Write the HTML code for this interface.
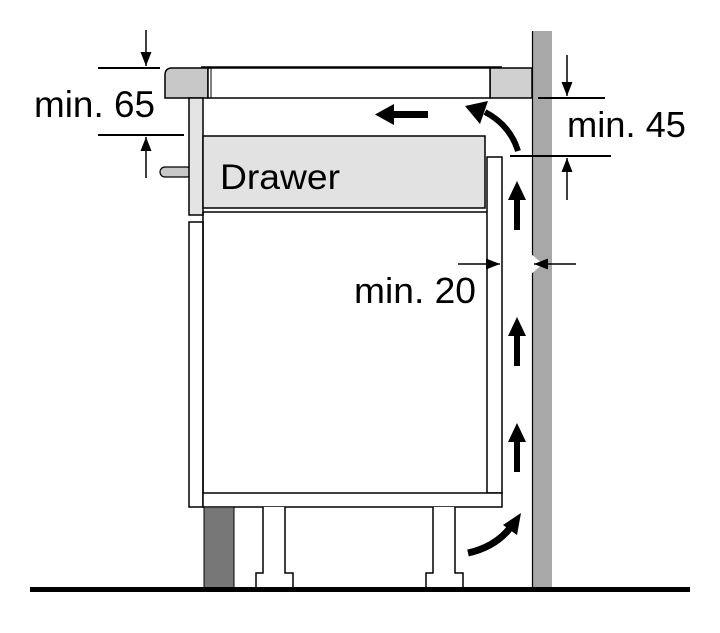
<!DOCTYPE html>
<html><head><meta charset="utf-8"><style>html,body{margin:0;padding:0;background:#fff}svg{display:block}text{font-family:"Liberation Sans",Arial,sans-serif;fill:#000}</style></head>
<body>
<svg width="720" height="633" viewBox="0 0 720 633" xmlns="http://www.w3.org/2000/svg">
<defs>
<marker id="ah" viewBox="0 0 14 12" refX="14" refY="6" markerWidth="14" markerHeight="12" markerUnits="userSpaceOnUse" orient="auto"><path d="M0,0.5 L14,6 L0,11.5 Z" fill="#000"/></marker>
</defs>
<rect x="532" y="31" width="20" height="558" fill="#a8a8a8"/>
<line x1="532.5" y1="31" x2="532.5" y2="589" stroke="#000" stroke-width="1.2"/>
<path d="M172,68 H208 V98 H165 V75 Q165,68 172,68 Z" fill="#c8c8c8" stroke="#000" stroke-width="1.5"/>
<rect x="490" y="68" width="42" height="30" fill="#d0d0d0" stroke="#000" stroke-width="1.5"/>
<rect x="208" y="68" width="282" height="30" fill="#fff" stroke="#000" stroke-width="1.5"/>
<line x1="201" y1="67" x2="502" y2="67" stroke="#000" stroke-width="1.5"/>
<line x1="211" y1="68" x2="211" y2="98" stroke="#000" stroke-width="1"/>
<rect x="160" y="167" width="32" height="10" rx="5" fill="#c8c8c8" stroke="#000" stroke-width="1.2"/>
<rect x="189" y="98" width="14" height="117" fill="#e4e4e4" stroke="#000" stroke-width="1.5"/>
<rect x="189" y="222" width="14" height="285" fill="#fff" stroke="#000" stroke-width="1.5"/>
<rect x="203" y="136" width="282" height="72" fill="#e2e2e2" stroke="#000" stroke-width="1.5"/>
<line x1="203" y1="212" x2="488" y2="212" stroke="#000" stroke-width="1.5"/>
<text x="220" y="189" font-size="35" textLength="120" lengthAdjust="spacingAndGlyphs">Drawer</text>
<line x1="203" y1="212" x2="203" y2="493" stroke="#000" stroke-width="1.5"/>
<rect x="487" y="157" width="15" height="336" fill="#fff" stroke="#000" stroke-width="1.5"/>
<rect x="203" y="493" width="299" height="14" fill="#fff" stroke="#000" stroke-width="1.5"/>
<rect x="204" y="507" width="30" height="81" fill="#777" stroke="#000" stroke-width="1"/>
<path d="M263,507 V573 H256 V588 H293 V573 H285 V507" fill="#fff" stroke="#000" stroke-width="1.5"/>
<path d="M433,507 V573 H426 V588 H463 V573 H455 V507" fill="#fff" stroke="#000" stroke-width="1.5"/>
<rect x="30" y="587" width="660" height="5" fill="#000"/>
<line x1="98" y1="68" x2="160" y2="68" stroke="#000" stroke-width="2"/>
<line x1="98" y1="135" x2="184" y2="135" stroke="#000" stroke-width="2"/>
<line x1="146" y1="30" x2="146" y2="66" stroke="#000" stroke-width="1.5" marker-end="url(#ah)"/>
<line x1="146" y1="178" x2="146" y2="137" stroke="#000" stroke-width="1.5" marker-end="url(#ah)"/>
<text x="34" y="117" font-size="37" textLength="121" lengthAdjust="spacingAndGlyphs">min. 65</text>
<line x1="538" y1="98" x2="605" y2="98" stroke="#000" stroke-width="2"/>
<line x1="510" y1="156" x2="611" y2="156" stroke="#000" stroke-width="2"/>
<line x1="567" y1="55" x2="567" y2="96" stroke="#000" stroke-width="1.5" marker-end="url(#ah)"/>
<line x1="567" y1="200" x2="567" y2="158" stroke="#000" stroke-width="1.5" marker-end="url(#ah)"/>
<text x="567" y="137" font-size="36" textLength="119" lengthAdjust="spacingAndGlyphs">min. 45</text>
<line x1="458" y1="264" x2="500" y2="264" stroke="#000" stroke-width="1.5" marker-end="url(#ah)"/>
<path d="M531,254 L543,264 L531,274 Z" fill="#fff"/>
<line x1="576" y1="264" x2="534" y2="264" stroke="#000" stroke-width="1.5" marker-end="url(#ah)"/>
<text x="354" y="303" font-size="36" textLength="122" lengthAdjust="spacingAndGlyphs">min. 20</text>
<g fill="#000">
<rect x="514" y="198" width="6" height="32"/><path d="M508,200 L517,181 L526,200 Z"/>
<rect x="514" y="334" width="6" height="32"/><path d="M508,336 L517,317 L526,336 Z"/>
<rect x="514" y="440" width="6" height="32"/><path d="M508,442 L517,423 L526,442 Z"/>
<rect x="392" y="111" width="36" height="7"/><path d="M394,104 L375,114.5 L394,125 Z"/>
</g>
<path d="M518,151 Q510,125 485,112" fill="none" stroke="#000" stroke-width="6"/>
<path d="M488,101 L465,106 L480,124 Z" fill="#000"/>
<path d="M468,553 Q495,547 510,528" fill="none" stroke="#000" stroke-width="7"/>
<path d="M503,525 L521,513 L517,535 Z" fill="#000"/>
</svg>
</body></html>
